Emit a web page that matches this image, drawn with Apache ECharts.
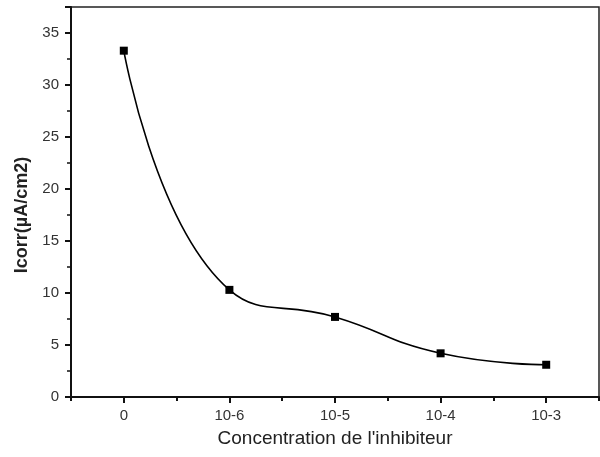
<!DOCTYPE html>
<html>
<head>
<meta charset="utf-8">
<script src="https://cdn.jsdelivr.net/npm/echarts@6/dist/echarts.min.js"></script>
<style>html,body{margin:0;padding:0;background:#fff}#c{width:600px;height:457px}</style>
</head>
<body>
<div id="c"></div>
<script>
var categories = ['0', '10-6', '10-5', '10-4', '10-3'];
var icorr = [33.3, 10.3, 7.7, 4.2, 3.1];
var yTicks = [0, 5, 10, 15, 20, 25, 30, 35];

var chart = echarts.init(document.getElementById('c'), null, {renderer: 'canvas'});
var font = 'Liberation Sans, Arial, sans-serif';
chart.setOption({
  animation: false,
  backgroundColor: '#fff',
  grid: {left: 71, right: 1, top: 7, bottom: 60, show: true, borderColor: '#222', borderWidth: 1.5, containLabel: false},
  xAxis: [{
    type: 'category',
    data: categories,
    boundaryGap: true,
    name: "Concentration de l'inhibiteur",
    nameLocation: 'middle',
    nameGap: 32,
    nameTextStyle: {fontFamily: font, fontSize: 19, color: '#222'},
    axisLine: {show: true, lineStyle: {color: '#111', width: 2}},
    axisTick: {show: true, alignWithLabel: true, length: 6, lineStyle: {color: '#111', width: 2}},
    axisLabel: {fontFamily: font, fontSize: 15, color: '#333', margin: 11},
    splitLine: {show: false}
  }, {
    type: 'category',
    data: categories,
    position: 'bottom',
    boundaryGap: true,
    axisLine: {show: false},
    axisTick: {show: true, alignWithLabel: false, length: 4, lineStyle: {color: '#111', width: 2}},
    axisLabel: {show: false},
    splitLine: {show: false}
  }],
  yAxis: {
    type: 'value',
    min: 0,
    max: 37.5,
    interval: 5,
    name: 'Icorr(µA/cm2)',
    nameLocation: 'middle',
    nameGap: 37,
    nameTextStyle: {fontFamily: font, fontSize: 18, fontWeight: 'bold', color: '#222', padding: [0, 26, 0, 0]},
    axisLine: {show: true, lineStyle: {color: '#111', width: 2}},
    axisTick: {show: true, length: 6, lineStyle: {color: '#111', width: 2}},
    minorTick: {show: true, splitNumber: 2, length: 4, lineStyle: {color: '#111', width: 1.5}},
    axisLabel: {fontFamily: font, fontSize: 15, color: '#333', margin: 12,
      formatter: function (v) { return yTicks.indexOf(v) >= 0 ? String(v) : ''; }},
    splitLine: {show: false}
  },
  series: [{
    type: 'line',
    data: icorr,
    smooth: 0.5,
    symbol: 'rect',
    symbolSize: 8,
    itemStyle: {color: '#000'},
    lineStyle: {color: '#000', width: 1.6}
  }]
});
</script>
</body>
</html>
